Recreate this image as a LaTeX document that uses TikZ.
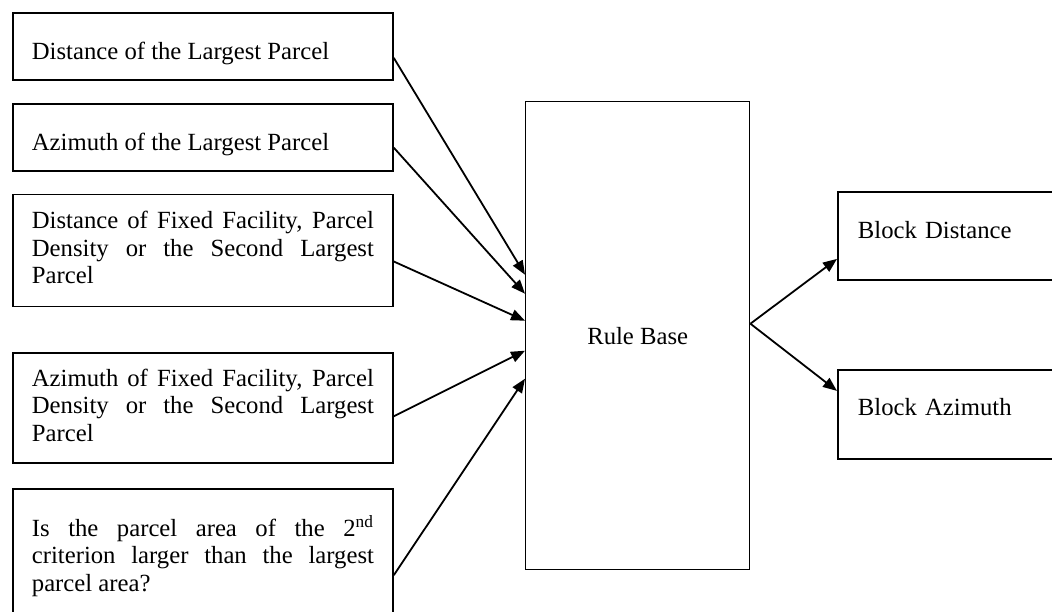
\documentclass[tikz,border=0pt]{standalone}
\usepackage{fontspec}
\setmainfont{Liberation Serif}
\usetikzlibrary{positioning,arrows.meta}
\hyphenpenalty=10000
\exhyphenpenalty=10000

\begin{document}
\begin{tikzpicture}[
  x=0.5pt,y=-0.5pt,
  font=\fontsize{12.35pt}{13.8pt}\selectfont,
  node distance=11pt,
  inbox/.style={draw,line width=0.9pt,text width=171pt,inner xsep=9.5pt,
                inner ysep=0pt,align=justify},
  outbox/.style={draw,line width=0.9pt,text width=130pt,inner xsep=10pt,
                 inner ysep=0pt,align=left,anchor=north west},
  rulebox/.style={draw,line width=0.7pt,minimum width=112pt,
                  minimum height=234pt,inner sep=0pt},
  arr/.style={-{Triangle[length=7pt,width=5.5pt]},line width=0.9pt}
]
\useasboundingbox (0,0) rectangle (1052,611);
\clip (0,0) rectangle (1052,611);

% input column
\node[inbox,anchor=north west,text height=23.5pt,text depth=10pt] (dlarge) at (12,12)
  {Distance of the Largest Parcel};
\node[inbox,below=of dlarge,text height=23.5pt,text depth=10pt] (alarge)
  {Azimuth of the Largest Parcel};
\node[inbox,below=of alarge,text height=17pt,text depth=39pt] (dsecond)
  {Distance of Fixed Facility, Parcel Density or the Second Largest Parcel};
\node[inbox,below=22.5pt of dsecond,text height=16.5pt,text depth=38.5pt] (asecond)
  {Azimuth of Fixed Facility, Parcel Density or the Second Largest Parcel};
\node[inbox,below=12pt of asecond,text height=23.5pt,text depth=56pt] (larger)
  {Is the parcel area of the 2\textsuperscript{nd} criterion larger than the largest parcel area?};

% rule base
\node[rulebox,anchor=north west] (rule) at (525,101) {Rule Base};

% outputs
\node[outbox,text height=23.5pt,text depth=20.5pt] (bdist) at (837,191) {Block Distance};
\node[outbox,text height=23pt,text depth=21.5pt] (bazi) at (837,369) {Block Azimuth};

\draw[arr] ([yshift=-5.75pt]dlarge.east) -- ([yshift=30.5pt]rule.west);
\draw[arr] ([yshift=-5.25pt]alarge.east) -- ([yshift=21pt]rule.west);
\draw[arr] ([yshift=-5.5pt]dsecond.east) -- ([yshift=7.5pt]rule.west);
\draw[arr] ([yshift=-4pt]asecond.east) -- ([yshift=-7.5pt]rule.west);
\draw[arr] ([yshift=-43.5pt]larger.north east) -- ([yshift=-21.5pt]rule.west);
\draw[arr] ([yshift=6pt]rule.east) -- ([yshift=-11.5pt]bdist.west);
\draw[arr] ([yshift=6pt]rule.east) -- ([yshift=11.75pt]bazi.west);
\end{tikzpicture}
\end{document}
